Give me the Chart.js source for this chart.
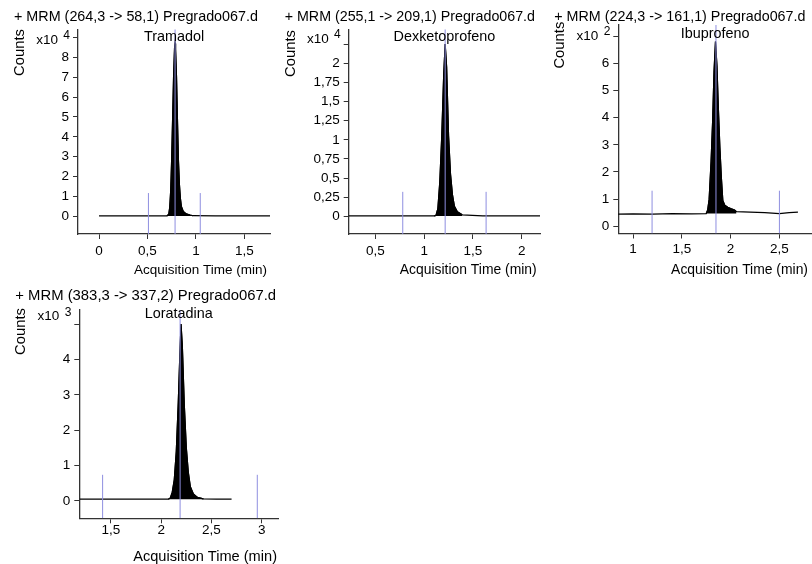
<!DOCTYPE html>
<html>
<head>
<meta charset="utf-8">
<script src="https://cdn.jsdelivr.net/npm/chart.js@4.4.1/dist/chart.umd.min.js"></script>
<style>
html,body{margin:0;padding:0;background:#fff;}
#wrap{position:relative;width:812px;height:564px;overflow:hidden;background:#fff;}
#wrap canvas{position:absolute;left:0;top:0;}
</style>
</head>
<body>
<div id="wrap">
<canvas id="c1" width="812" height="564"></canvas>
<canvas id="c2" width="812" height="564"></canvas>
<canvas id="c3" width="812" height="564"></canvas>
<canvas id="c4" width="812" height="564"></canvas>
</div>
<script>
// ---------- DATA (time in min, counts in units of 10^exponent) ----------
const tramadolTime   = [0, 0.3, 0.6, 0.70, 0.72, 0.73, 0.74, 0.75, 0.76, 0.77, 0.78, 0.785, 0.79, 0.80, 0.81, 0.82, 0.83, 0.84, 0.85, 0.87, 0.90, 0.94, 0.97, 1.2, 1.5, 1.8];
const tramadolCounts = [0.02, 0.02, 0.02, 0.02, 0.1, 0.45, 1.3, 2.9, 5.0, 7.1, 8.5, 8.7, 8.4, 7.0, 4.8, 2.8, 1.6, 0.9, 0.5, 0.25, 0.12, 0.06, 0.03, 0.02, 0.02, 0.02];
const tramadolMarkers = [0.51, 0.785, 1.045];
const tramadolXTicks = [0, 0.5, 1, 1.5];
const tramadolYTicks = [0, 1, 2, 3, 4, 5, 6, 7, 8, 9];

const dexTime   = [0.22, 0.6, 1.0, 1.10, 1.12, 1.14, 1.16, 1.18, 1.20, 1.215, 1.23, 1.25, 1.27, 1.29, 1.31, 1.34, 1.39, 1.6, 1.9, 2.2];
const dexCounts = [0.005, 0.005, 0.005, 0.005, 0.01, 0.1, 0.45, 1.05, 1.85, 2.25, 1.95, 1.05, 0.55, 0.28, 0.13, 0.06, 0.02, 0.005, 0.005, 0.005];
const dexMarkers = [0.78, 1.215, 1.635];
const dexXTicks = [0.5, 1, 1.5, 2];
const dexYTicks = [0, 0.25, 0.5, 0.75, 1, 1.25, 1.5, 1.75, 2, 2.25];

const ibuTime   = [0.84, 1.0, 1.2, 1.4, 1.6, 1.75, 1.765, 1.78, 1.80, 1.815, 1.83, 1.845, 1.86, 1.875, 1.89, 1.905, 1.92, 1.94, 1.97, 2.0, 2.04, 2.06, 2.2, 2.35, 2.5, 2.6, 2.69];
const ibuCounts = [0.45, 0.46, 0.45, 0.47, 0.46, 0.47, 0.6, 1.0, 2.4, 3.8, 5.7, 6.8, 5.9, 4.3, 2.9, 1.8, 0.95, 0.78, 0.7, 0.65, 0.6, 0.54, 0.52, 0.5, 0.47, 0.5, 0.52];
const ibuMarkers = [1.195, 1.85, 2.5];
const ibuXTicks = [1, 1.5, 2, 2.5];
const ibuYTicks = [0, 1, 2, 3, 4, 5, 6, 7];

const loraTime   = [1.19, 1.5, 1.8, 2.07, 2.09, 2.11, 2.13, 2.15, 2.17, 2.185, 2.197, 2.21, 2.23, 2.25, 2.27, 2.29, 2.32, 2.36, 2.42, 2.55, 2.70];
const loraCounts = [0.05, 0.05, 0.05, 0.05, 0.08, 0.25, 0.6, 1.4, 2.8, 4.1, 5.0, 4.4, 2.7, 1.5, 0.8, 0.4, 0.2, 0.1, 0.06, 0.05, 0.05];
const loraMarkers = [1.417, 2.188, 2.956];
const loraXTicks = [1.5, 2, 2.5, 3];
const loraYTicks = [0, 1, 2, 3, 4, 5];

const titles = ['+ MRM (264,3 -> 58,1) Pregrado067.d', '+ MRM (255,1 -> 209,1) Pregrado067.d', '+ MRM (224,3 -> 161,1) Pregrado067.d', '+ MRM (383,3 -> 337,2) Pregrado067.d'];
const compounds = ['Tramadol', 'Dexketoprofeno', 'Ibuprofeno', 'Loratadina'];
const exponents = ['4', '4', '2', '3'];
const xAxisTitle = 'Acquisition Time (min)';
const yAxisTitle = 'Counts';

// ---------- LAYOUT ----------
const FONT = '"Liberation Sans", Arial, Helvetica, sans-serif';
const W = 812, H = 564, YW = 60, XH = 30;
const MARKER_COLOR = '#8e8ee0';

const panels = [
  { id:'c1', time:tramadolTime, counts:tramadolCounts, markers:tramadolMarkers, markerTop:1.17,
    xTicks:tramadolXTicks, yTicks:tramadolYTicks, xRange:[-0.217, 1.765], yRange:[-0.89, 9.41],
    peak:[0.70, 0.97], base:0.02,
    box:{l:78, r:270, t:29.3, b:234}, titleY:17, nameY:37.5, countsTop:29, x10Y:40, xTitleY:270, xTitleRight:267, xTickPad:4,
    titleSize:14.35, xTitleSize:13.5 },
  { id:'c2', time:dexTime, counts:dexCounts, markers:dexMarkers, markerTop:0.32,
    xTicks:dexXTicks, yTicks:dexYTicks, xRange:[0.2253, 2.188], yRange:[-0.231, 2.444],
    peak:[1.10, 1.39], base:0.005,
    box:{l:348.7, r:540, t:29.3, b:234}, titleY:17, nameY:37.5, countsTop:30, x10Y:39.5, xTitleY:270, xTitleRight:536.7, xTickPad:4,
    titleSize:14.25, xTitleSize:13.9 },
  { id:'c3', time:ibuTime, counts:ibuCounts, markers:ibuMarkers, markerTop:1.31,
    xTicks:ibuXTicks, yTicks:ibuYTicks, xRange:[0.849, 2.834], yRange:[-0.265, 7.41],
    peak:[1.75, 2.06], base:0.47,
    box:{l:618.3, r:812, t:25, b:233.5}, titleY:17.5, nameY:34, countsTop:21.7, x10Y:36.5, xTitleY:270, xTitleRight:808, xTickPad:3,
    titleSize:14.3, xTitleSize:13.9 },
  { id:'c4', time:loraTime, counts:loraCounts, markers:loraMarkers, markerTop:0.74,
    xTicks:loraXTicks, yTicks:loraYTicks, xRange:[1.185, 3.162], yRange:[-0.49, 5.40],
    peak:[2.07, 2.42], base:0.05,
    box:{l:79.3, r:278, t:310, b:518.3}, titleY:296, nameY:314.5, countsTop:308, x10Y:316.7, xTitleY:556.5, xTitleRight:277, xTickPad:-1,
    titleSize:14.85, xTitleSize:14.6 }
];

const fmt = v => String(+Number(v).toFixed(2)).replace('.', ',');

const panelText = {
  id: 'panelText',
  afterDraw(chart, args, o) {
    const ctx = chart.ctx, a = chart.chartArea;
    ctx.save();
    ctx.fillStyle = '#000';
    ctx.textBaseline = 'middle';
    ctx.font = o.titleSize + 'px ' + FONT;
    ctx.textAlign = 'left';
    ctx.fillText(o.title, a.left - 64, o.titleY);
    ctx.font = '14.4px ' + FONT;
    ctx.textAlign = 'center';
    ctx.fillText(o.compound, (a.left + a.right) / 2, o.nameY);
    ctx.font = o.xTitleSize + 'px ' + FONT;
    ctx.textAlign = 'right';
    ctx.fillText(xAxisTitle, o.xTitleRight, o.xTitleY);
    ctx.save();
    ctx.font = '14.8px ' + FONT;
    ctx.translate(a.left - 58, o.countsTop);
    ctx.rotate(-Math.PI / 2);
    ctx.textAlign = 'right';
    ctx.fillText(yAxisTitle, 0, 0);
    ctx.restore();
    ctx.font = '13.5px ' + FONT;
    ctx.textAlign = 'right';
    ctx.fillText('x10', a.left - 20, o.x10Y);
    ctx.font = '12px ' + FONT;
    ctx.fillText(o.exponent, a.left - 8, o.x10Y - 4.5);
    ctx.restore();
  }
};

panels.forEach((p, i) => {
  const pts = p.time.map((t, k) => ({x: t, y: p.counts[k]}));
  const peakPts = pts.filter(d => d.x >= p.peak[0] && d.x <= p.peak[1]);
  const [yMin, yMax] = p.yRange;
  const datasets = [];
  p.markers.forEach((m, k) => {
    datasets.push({
      type: 'line', data: [{x: m, y: yMin}, {x: m, y: k === 1 ? yMax : p.markerTop}],
      borderColor: MARKER_COLOR, borderWidth: 1, pointRadius: 0, fill: false, order: 0
    });
  });
  datasets.push({
    type: 'line', data: pts, borderColor: '#000', borderWidth: 1.2, pointRadius: 0,
    fill: false, tension: 0, order: 1
  });
  datasets.push({
    type: 'line', data: peakPts, borderColor: '#000', borderWidth: 1.2, pointRadius: 0,
    backgroundColor: '#000', fill: {value: p.base}, tension: 0, order: 2
  });

  new Chart(document.getElementById(p.id), {
    type: 'line',
    data: { datasets },
    plugins: [panelText],
    options: {
      responsive: false,
      animation: false,
      events: [],
      layout: { padding: { left: p.box.l - YW, right: W - p.box.r, top: p.box.t, bottom: H - p.box.b - XH } },
      plugins: {
        legend: { display: false },
        tooltip: { enabled: false },
        title: { display: false },
        panelText: { title: titles[i], compound: compounds[i], exponent: exponents[i],
          titleY: p.titleY, nameY: p.nameY, countsTop: p.countsTop, x10Y: p.x10Y,
          xTitleY: p.xTitleY, xTitleRight: p.xTitleRight, titleSize: p.titleSize, xTitleSize: p.xTitleSize }
      },
      scales: {
        x: {
          type: 'linear', min: p.xRange[0], max: p.xRange[1],
          afterBuildTicks: s => { s.ticks = p.xTicks.map(v => ({value: v})); },
          afterFit: s => { s.height = XH; },
          grid: { drawOnChartArea: false, drawTicks: true, tickLength: 5, tickColor: '#333', color: '#333' },
          border: { display: true, color: '#333', width: 1.3 },
          ticks: { autoSkip: false, maxRotation: 0, padding: p.xTickPad, color: '#000',
                   font: { family: FONT, size: 13.5 }, callback: v => fmt(v) }
        },
        y: {
          type: 'linear', min: yMin, max: yMax,
          afterBuildTicks: s => { s.ticks = p.yTicks.map(v => ({value: v})); },
          afterFit: s => { s.width = YW; },
          grid: { drawOnChartArea: false, drawTicks: true, tickLength: 5, tickColor: '#333', color: '#333' },
          border: { display: true, color: '#333', width: 1.3 },
          ticks: { autoSkip: false, padding: 4, color: '#000', font: { family: FONT, size: 13.5 },
                   callback: (v, idx, arr) => idx === arr.length - 1 ? '' : fmt(v) }
        }
      }
    }
  });
});
</script>
</body>
</html>
